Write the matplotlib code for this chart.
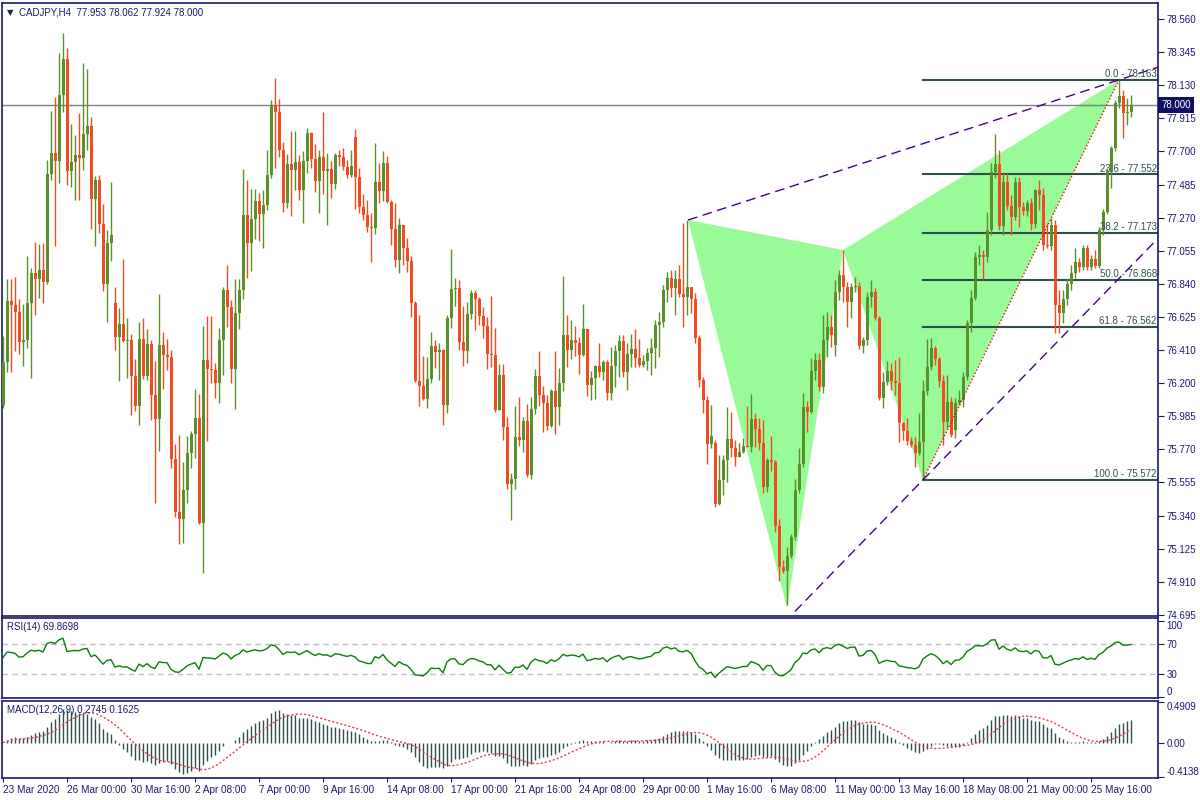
import numpy as np
import pandas as pd
import matplotlib
matplotlib.use("Agg")
import matplotlib.pyplot as plt
import matplotlib.transforms as mtrans

# =========================
# DATA (CADJPY H4)
# =========================
SYMBOL_TEXT = "CADJPY,H4  77.953 78.062 77.924 78.000"
RSI_TEXT = "RSI(14) 69.8698"
MACD_TEXT = "MACD(12,26,9) 0.2745 0.1625"
LAST_PRICE = 78.000

close = [
    76.335, 76.731, 76.705, 76.659, 76.465, 76.478, 76.718, 76.912, 76.873, 76.931,
    76.854, 77.553, 77.689, 77.637, 78.065, 78.298, 77.572, 77.631, 77.676, 77.657,
    77.812, 77.864, 77.391, 77.514, 77.229, 76.841, 77.106, 77.158, 76.497, 76.582,
    76.471, 76.478, 76.245, 76.050, 76.484, 76.245, 76.452, 76.122, 75.966, 76.446,
    76.381, 76.368, 75.707, 75.364, 75.319, 75.506, 75.746, 75.869, 75.973, 75.293,
    76.348, 76.290, 76.284, 76.199, 76.478, 76.802, 76.692, 76.290, 76.653, 76.802,
    77.287, 77.106, 77.262, 77.378, 77.294, 77.352, 77.547, 78.000, 77.955, 77.708,
    77.365, 77.618, 77.579, 77.631, 77.449, 77.637, 77.819, 77.650, 77.508, 77.663,
    77.572, 77.585, 77.488, 77.676, 77.663, 77.598, 77.547, 77.605, 77.534, 77.339,
    77.287, 77.210, 77.203, 77.501, 77.443, 77.624, 77.372, 77.197, 76.996, 77.223,
    77.074, 76.990, 76.718, 76.212, 76.180, 76.096, 76.225, 76.439, 76.400, 76.413,
    76.057, 76.620, 76.808, 76.815, 76.465, 76.407, 76.646, 76.782, 76.743, 76.633,
    76.569, 76.387, 76.381, 76.025, 76.251, 75.914, 75.545, 75.578, 75.850, 75.830,
    75.953, 75.604, 76.031, 76.245, 76.122, 76.070, 75.921, 76.148, 76.044, 76.199,
    76.510, 76.413, 76.478, 76.458, 76.381, 76.549, 76.186, 76.232, 76.309, 76.271,
    76.335, 76.135, 76.309, 76.407, 76.471, 76.271, 76.387, 76.420, 76.361, 76.316,
    76.342, 76.394, 76.426, 76.575, 76.595, 76.802, 76.879, 76.815, 76.873, 76.776,
    76.756, 76.821, 76.743, 76.491, 76.219, 76.089, 75.804, 75.856, 75.416, 75.571,
    75.701, 75.837, 75.778, 75.720, 75.753, 75.791, 75.788, 75.966, 75.901, 75.811,
    75.526, 75.701, 75.688, 75.273, 75.008, 74.982, 75.079, 75.202, 75.506, 75.675,
    76.044, 76.012, 76.277, 76.348, 76.174, 76.478, 76.562, 76.510, 76.789, 76.899,
    76.821, 76.724, 76.821, 76.828, 76.439, 76.478, 76.756, 76.789, 76.620, 76.102,
    76.206, 76.277, 76.212, 76.199, 75.940, 75.889, 75.824, 75.798, 75.746, 75.817,
    76.148, 76.303, 76.426, 76.355, 76.212, 75.947, 76.076, 75.863, 76.070, 76.089,
    76.238, 76.588, 76.750, 77.015, 77.028, 77.015, 77.190, 77.566, 77.618, 77.216,
    77.501, 77.346, 77.275, 77.501, 77.339, 77.313, 77.365, 77.229, 77.449, 77.417,
    77.093, 77.087, 77.223, 76.705, 76.653, 76.743, 76.841, 76.912, 76.983, 76.951,
    77.074, 76.951, 77.003, 76.957, 77.190, 77.307, 77.566, 77.721, 78.013, 78.060,
    77.948, 77.955, 78.000,
]

high = [
    76.504, 76.873, 76.873, 76.886, 76.743, 76.711, 77.022, 76.944, 77.113, 77.100,
    77.106, 77.644, 77.961, 78.052, 78.337, 78.466, 78.369, 77.877, 77.806, 77.948,
    78.272, 78.233, 77.922, 77.540, 77.547, 77.359, 77.190, 77.501, 76.821, 76.685,
    77.003, 76.620, 76.517, 76.355, 76.595, 76.620, 76.549, 76.478, 76.342, 76.776,
    76.530, 76.484, 76.413, 75.804, 75.863, 75.688, 75.856, 75.889, 76.161, 76.128,
    76.569, 76.633, 76.633, 76.329, 76.556, 76.821, 76.964, 76.737, 76.873, 76.873,
    77.585, 77.514, 77.456, 77.456, 77.430, 77.449, 77.708, 78.032, 78.175, 78.039,
    77.760, 77.683, 77.832, 77.832, 77.676, 77.702, 77.851, 77.825, 77.747, 77.708,
    77.955, 77.689, 77.637, 77.689, 77.708, 77.721, 77.644, 77.708, 77.845, 77.592,
    77.424, 77.385, 77.300, 77.754, 77.624, 77.702, 77.670, 77.385, 77.365, 77.268,
    77.223, 77.138, 77.022, 76.731, 76.640, 76.374, 76.368, 76.530, 76.478, 76.458,
    76.420, 76.640, 77.067, 76.879, 76.867, 76.698, 76.724, 76.802, 76.802, 76.756,
    76.692, 76.627, 76.763, 76.556, 76.322, 76.322, 75.979, 75.617, 76.050, 76.109,
    75.979, 76.063, 76.109, 76.290, 76.407, 76.180, 76.122, 76.161, 76.407, 76.297,
    76.892, 76.640, 76.607, 76.569, 76.497, 76.711, 76.549, 76.277, 76.316, 76.458,
    76.348, 76.348, 76.433, 76.446, 76.510, 76.510, 76.458, 76.517, 76.549, 76.484,
    76.381, 76.426, 76.491, 76.607, 76.659, 76.834, 76.918, 76.931, 76.931, 76.964,
    77.236, 77.255, 76.821, 76.782, 76.510, 76.238, 76.115, 76.057, 75.830, 75.733,
    75.733, 76.044, 76.012, 75.830, 75.811, 75.843, 76.050, 76.128, 76.005, 75.973,
    75.960, 75.714, 75.856, 75.701, 75.319, 75.053, 75.137, 75.221, 75.578, 75.778,
    76.135, 76.083, 76.361, 76.394, 76.394, 76.640, 76.659, 76.640, 76.867, 76.931,
    77.061, 76.854, 76.847, 76.886, 76.854, 76.497, 76.789, 76.867, 76.815, 76.633,
    76.271, 76.342, 76.329, 76.348, 76.368, 75.947, 75.973, 75.850, 75.850, 76.005,
    76.219, 76.484, 76.491, 76.439, 76.368, 76.251, 76.251, 76.109, 76.102, 76.154,
    76.271, 76.607, 76.802, 77.048, 77.093, 77.061, 77.307, 77.624, 77.812, 77.708,
    77.560, 77.560, 77.417, 77.534, 77.534, 77.372, 77.385, 77.398, 77.456, 77.514,
    77.462, 77.236, 77.268, 77.255, 76.802, 76.802, 76.879, 76.964, 77.074, 77.009,
    77.093, 77.093, 77.028, 77.061, 77.210, 77.326, 77.592, 77.734, 78.032, 78.163,
    78.097, 78.045, 78.062,
]

low = [
    76.037, 76.271, 76.271, 76.407, 76.387, 76.309, 76.426, 76.232, 76.640, 76.750,
    76.718, 76.841, 77.514, 77.087, 77.495, 77.955, 77.482, 77.469, 77.385, 77.385,
    77.579, 77.708, 77.197, 77.087, 77.171, 76.795, 76.595, 76.990, 76.413, 76.212,
    76.465, 76.232, 75.992, 76.018, 75.927, 76.225, 76.219, 75.960, 75.422, 75.759,
    76.161, 76.284, 75.649, 75.332, 75.157, 75.163, 75.422, 75.649, 75.714, 75.286,
    74.969, 75.824, 76.199, 76.102, 76.070, 76.251, 76.562, 76.199, 76.031, 76.549,
    76.743, 76.879, 76.925, 77.132, 77.119, 77.074, 77.320, 77.527, 77.592, 77.663,
    77.307, 77.333, 77.281, 77.449, 77.385, 77.236, 77.560, 77.592, 77.436, 77.300,
    77.424, 77.223, 77.398, 77.456, 77.605, 77.579, 77.527, 77.534, 77.326, 77.300,
    77.255, 77.177, 76.983, 77.164, 77.365, 77.378, 77.365, 77.093, 76.951, 76.912,
    76.964, 76.918, 76.627, 76.206, 76.050, 76.089, 76.037, 76.199, 76.297, 76.219,
    75.927, 76.005, 76.556, 76.698, 76.413, 76.309, 76.329, 76.614, 76.543, 76.575,
    76.491, 76.290, 76.303, 76.012, 76.025, 75.830, 75.513, 75.312, 75.513, 75.791,
    75.753, 75.591, 75.578, 75.999, 76.050, 75.882, 75.895, 75.914, 75.869, 75.927,
    76.148, 76.303, 76.355, 76.374, 76.258, 76.374, 76.115, 76.089, 76.096, 76.238,
    76.219, 76.089, 76.089, 76.174, 76.238, 76.238, 76.154, 76.303, 76.303, 76.303,
    76.303, 76.284, 76.251, 76.297, 76.368, 76.562, 76.724, 76.756, 76.640, 76.756,
    76.562, 76.640, 76.653, 76.458, 76.174, 76.005, 75.675, 75.778, 75.396, 75.409,
    75.474, 75.558, 75.720, 75.662, 75.720, 75.746, 75.782, 75.753, 75.785, 75.765,
    75.487, 75.493, 75.629, 75.234, 74.917, 74.969, 74.762, 75.066, 75.183, 75.487,
    75.655, 75.882, 76.005, 76.219, 76.148, 76.135, 76.368, 76.433, 76.374, 76.737,
    76.724, 76.562, 76.620, 76.789, 76.420, 76.394, 76.446, 76.692, 76.607, 76.089,
    76.037, 76.186, 76.154, 76.122, 75.817, 75.830, 75.798, 75.785, 75.655, 75.733,
    75.572, 76.122, 76.284, 76.316, 76.174, 75.798, 75.908, 75.850, 75.843, 76.057,
    76.044, 76.219, 76.530, 76.737, 76.964, 76.867, 76.983, 77.158, 77.527, 77.190,
    77.158, 77.320, 77.158, 77.255, 77.210, 77.287, 77.281, 77.190, 77.203, 77.320,
    77.061, 77.074, 77.061, 76.523, 76.523, 76.588, 76.705, 76.802, 76.879, 76.918,
    76.931, 76.931, 76.931, 76.944, 76.944, 77.158, 77.294, 77.462, 77.702, 77.981,
    77.786, 77.870, 77.924,
]

# bars that open away from the previous close (weekend gaps, first bar, last bar)
gap_open = {0: 76.057, 28: 76.718, 88: 77.793, 178: 75.811, 208: 76.446,
            238: 75.895, 282: 77.953}

date_bars = [0, 16, 32, 48, 64, 80, 96, 112, 128, 144, 160, 176, 192, 208,
             224, 240, 256, 272]
date_labels = ["23 Mar 2020", "26 Mar 00:00", "30 Mar 16:00", "2 Apr 08:00",
               "7 Apr 00:00", "9 Apr 16:00", "14 Apr 08:00", "17 Apr 00:00",
               "21 Apr 16:00", "24 Apr 08:00", "29 Apr 00:00", "1 May 16:00",
               "6 May 08:00", "11 May 00:00", "13 May 16:00", "18 May 08:00",
               "21 May 00:00", "25 May 16:00"]

price_ticks = [78.560, 78.345, 78.130, 77.915, 77.700, 77.485, 77.270, 77.055,
               76.840, 76.625, 76.410, 76.200, 75.985, 75.770, 75.555, 75.340,
               75.125, 74.910, 74.695]
rsi_ticks = [100, 70, 30, 0]
macd_ticks = [0.4909, 0.0, -0.4138]
macd_tick_labels = ["0.4909", "0.00", "-0.4138"]

# harmonic pattern X, A, B, C, D  (bar index, price)
pat_x = [171.25, 196, 210, 230, 279]
pat_y = [77.255, 74.742, 77.061, 75.572, 78.163]

# trend channel: two points each, extended to the right
upper_tl_x, upper_tl_y = [171.25, 279], [77.255, 78.163]
lower_tl_x, lower_tl_y = [198, 230], [74.72, 75.572]

fib_low, fib_high = 75.5723, 78.1632
fib_start_bar = 230
fib_ratios = [0.0, 0.236, 0.382, 0.5, 0.618, 1.0]

# =========================
# PREP
# =========================
assert len(close) == len(high) == len(low)
n = len(close)
xs = np.arange(n)
c = np.array(close)
o = np.r_[c[0], c[:-1]]
for k, v in gap_open.items():
    o[k] = v
h = np.maximum.reduce([np.array(high), o, c])
l = np.minimum.reduce([np.array(low), o, c])

# RSI(14), Wilder smoothing; no history before the first bar, so the
# averages start from the mean move over the visible bars
d = np.diff(c, prepend=c[0])
up = np.clip(d, 0, None)
dn = np.clip(-d, 0, None)
au, ad = up[1:].mean(), dn[1:].mean()
rsi = np.empty(n)
for i in range(n):
    if i > 0:
        au = (au * 13 + up[i]) / 14
        ad = (ad * 13 + dn[i]) / 14
    rsi[i] = 100 - 100 / (1 + au / ad)

s = pd.Series(c)
macd = s.ewm(span=12, adjust=False).mean() - s.ewm(span=26, adjust=False).mean()
signal = macd.rolling(9, min_periods=1).mean()

# =========================
# STYLE
# =========================
plt.rcParams["font.family"] = ["Liberation Sans", "DejaVu Sans"]
FS = 7
NAVY = "#191970"
BULL = "#5b8f2a"
BEAR = "#f24b21"
XMAX = 288.75

fig = plt.figure(figsize=(12, 8), dpi=100)
W, H = 1200, 800


def px_axes(x0, y0, x1, y1):
    return fig.add_axes([x0 / W, 1 - y1 / H, (x1 - x0) / W, (y1 - y0) / H])


ax = px_axes(2, 3, 1158, 616)
ax_rsi = px_axes(2, 618, 1158, 698)
ax_macd = px_axes(2, 701, 1158, 778)

for a in (ax, ax_rsi, ax_macd):
    a.set_xlim(-0.25, XMAX)
    for sp in a.spines.values():
        sp.set_color(NAVY)
        sp.set_linewidth(1.2)
    a.yaxis.tick_right()
    a.tick_params(axis="y", colors=NAVY, length=4, width=0.8, pad=2, labelsize=FS)
    a.tick_params(axis="x", bottom=False, labelbottom=False)

# =========================
# MAIN PANEL
# =========================
ax.set_ylim(74.690, 78.661)
ax.set_yticks(price_ticks)
ax.set_yticklabels([f"{p:.3f}" for p in price_ticks])

# harmonic triangles
ax.fill(pat_x[0:3], pat_y[0:3], color="#98fb98", lw=0, zorder=1)
ax.fill(pat_x[2:5], pat_y[2:5], color="#98fb98", lw=0, zorder=1)
ax.plot(pat_x[3:5], pat_y[3:5], color="red", lw=1, ls=(0, (1, 1.5)), zorder=4)

ax.axhline(LAST_PRICE, color="#808080", lw=1, zorder=1.5)

# fibonacci levels
for r in fib_ratios:
    lvl = fib_high - r * (fib_high - fib_low)
    ax.plot([fib_start_bar, XMAX], [lvl, lvl], color="#2f4f4f", lw=1.5, zorder=2)
    ax.text(XMAX - 0.3, lvl + 0.004, f"{r * 100:.1f} - {lvl:.3f}", ha="right",
            va="bottom", color="#2f4f4f", fontsize=FS, zorder=5)

# trend lines (rays)
for tx, ty in ((upper_tl_x, upper_tl_y), (lower_tl_x, lower_tl_y)):
    k = (ty[1] - ty[0]) / (tx[1] - tx[0])
    ax.plot([tx[0], XMAX], [ty[0], ty[0] + k * (XMAX - tx[0])], color="#4b0082",
            lw=1, ls=(0, (7, 4)), zorder=4)

# candles
cols = np.where(c >= o, BULL, BEAR)
ax.vlines(xs, l, h, colors=cols, lw=1, zorder=3)
body = np.maximum(np.abs(c - o), 0.005)
ax.bar(xs, body, bottom=np.minimum(o, c), width=0.75, color=cols, lw=0, zorder=3)

ax.annotate(f"{LAST_PRICE:.3f}", xy=(1, LAST_PRICE),
            xycoords=mtrans.blended_transform_factory(ax.transAxes, ax.transData),
            xytext=(2.5, 0), textcoords="offset points", ha="left", va="center",
            color="white", fontsize=FS,
            bbox=dict(boxstyle="square,pad=0.35", fc="#101060", ec="none"))

ax.text(0.004, 0.992, "\u25bc", transform=ax.transAxes, ha="left", va="top",
        color="#202040", fontsize=6, family="DejaVu Sans")
ax.text(0.0145, 0.993, SYMBOL_TEXT, transform=ax.transAxes, ha="left", va="top",
        color=NAVY, fontsize=FS)

# =========================
# RSI PANEL
# =========================
ax_rsi.set_ylim(-1.3, 103.9)
ax_rsi.set_yticks(rsi_ticks)
ax_rsi.set_yticklabels([str(v) for v in rsi_ticks])
tl = ax_rsi.get_yticklabels()
tl[0].set_va("top")
tl[-1].set_va("bottom")
for lv in (70, 30):
    ax_rsi.axhline(lv, color="#c0c0c0", lw=1, ls=(0, (4, 3)))
ax_rsi.plot(xs, rsi, color="#0a7d0a", lw=1)
ax_rsi.text(0.004, 0.95, RSI_TEXT, transform=ax_rsi.transAxes, ha="left",
            va="top", color=NAVY, fontsize=FS)

# =========================
# MACD PANEL
# =========================
ax_macd.set_ylim(-0.426, 0.503)
ax_macd.set_yticks(macd_ticks)
ax_macd.set_yticklabels(macd_tick_labels)
tl = ax_macd.get_yticklabels()
tl[0].set_va("top")
tl[-1].set_va("bottom")
ax_macd.vlines(xs, 0, macd, colors="#2f4f4f", lw=1)
ax_macd.plot(xs, signal, color="#e04040", lw=1, ls=(0, (1.5, 1.5)))
ax_macd.text(0.004, 0.95, MACD_TEXT, transform=ax_macd.transAxes, ha="left",
             va="top", color=NAVY, fontsize=FS)

ax_macd.set_xticks(date_bars)
ax_macd.set_xticklabels(date_labels)
ax_macd.tick_params(axis="x", bottom=True, labelbottom=True, colors=NAVY,
                    length=3, width=0.8, pad=2, labelsize=7.2)
for lbl in ax_macd.get_xticklabels():
    lbl.set_ha("left")

fig.savefig("out.png", dpi=100, facecolor="white")
